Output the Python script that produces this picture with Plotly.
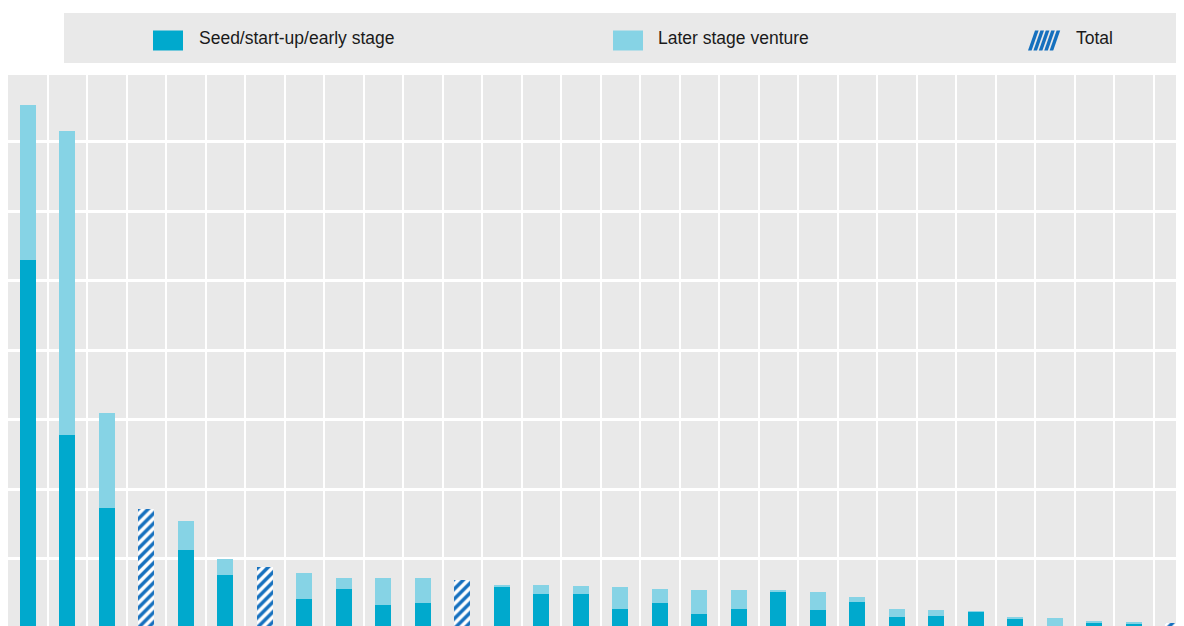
import plotly.graph_objects as go

# ---- data (arbitrary units, one gridline = 1 unit) ----
categories = [f"C{i:02d}" for i in range(1, 31)]
seed = [5.30, 2.79, 1.74, None, 1.13, 0.77, None, 0.42, 0.57, 0.34,
        0.36, None, 0.59, 0.49, 0.50, 0.28, 0.37, 0.21, 0.28, 0.52,
        0.27, 0.38, 0.17, 0.18, 0.24, 0.14, 0.00, 0.08, 0.07, None]
later = [2.23, 4.37, 1.36, None, 0.41, 0.23, None, 0.38, 0.16, 0.38,
         0.36, None, 0.04, 0.13, 0.11, 0.32, 0.20, 0.34, 0.27, 0.03,
         0.26, 0.07, 0.11, 0.08, 0.01, 0.03, 0.15, 0.02, 0.03, None]
total = [None, None, None, 1.72, None, None, 0.89, None, None, None,
         None, 0.70, None, None, None, None, None, None, None, None,
         None, None, None, None, None, None, None, None, None, 0.08]
legend_labels = ["Seed/start-up/early stage", "Later stage venture", "Total"]

SEED_C = "#00A9CD"
LATER_C = "#86D3E5"
HATCH_C = "#1570BE"
OFF = 8                      # page body margin offset
W, H = 1184 - OFF, 626 - OFF
ML, MT, MB, MR = 0, 75 - OFF, 0, 0

fig = go.Figure()
fig.add_bar(x=categories, y=seed, name=legend_labels[0], marker=dict(color=SEED_C, line=dict(width=0)))
fig.add_bar(x=categories, y=later, name=legend_labels[1], marker=dict(color=LATER_C, line=dict(width=0)))
fig.add_bar(x=categories, y=total, name=legend_labels[2],
            marker=dict(color="white", line=dict(width=0),
                        pattern=dict(shape="/", fgcolor=HATCH_C, bgcolor="white",
                                     size=7, solidity=0.5, fillmode="replace")))

pw = W - ML - MR
ph = H - MT - MB


def px(x):  # page pixel -> paper x
    return (x - OFF - ML) / pw


def py(y):  # page pixel -> paper y
    return (H - MB - (y - OFF)) / ph


shapes = [dict(type="rect", xref="paper", yref="paper", x0=px(64), x1=px(1176), y0=py(63), y1=py(13),
               fillcolor="#E9E9E9", line=dict(width=0), layer="below")]
annotations = []
items = [(153, 197, SEED_C), (613, 656, LATER_C), (1028, 1074, None)]
for (ix, tx, col), lab in zip(items, legend_labels):
    if col:
        shapes.append(dict(type="rect", xref="paper", yref="paper", x0=px(ix), x1=px(ix + 30),
                           y0=py(50.5), y1=py(30.5), fillcolor=col, line=dict(width=0)))
    else:
        for k in range(5):
            x0 = ix + k * 5.4
            shapes.append(dict(type="path", xref="paper", yref="paper",
                               path=(f"M{px(x0)},{py(50.5)} L{px(x0 + 3.6)},{py(50.5)} "
                                     f"L{px(x0 + 3.6 + 7)},{py(30.5)} L{px(x0 + 7)},{py(30.5)} Z"),
                               fillcolor=HATCH_C, line=dict(width=0)))
    annotations.append(dict(text=lab, xref="paper", yref="paper", x=px(tx), y=py(38.5),
                            xanchor="left", yanchor="middle", showarrow=False,
                            font=dict(family="Liberation Sans, Arial, sans-serif",
                                      size=17.5, color="#1a1a1a")))

fig.update_layout(
    width=W, height=H,
    margin=dict(l=ML, r=MR, t=MT, b=MB, pad=0),
    barmode="stack", bargap=0.595,
    showlegend=False,
    paper_bgcolor="white", plot_bgcolor="#E9E9E9",
    shapes=shapes, annotations=annotations,
    xaxis=dict(type="category", tickson="boundaries", showgrid=True, gridcolor="white", gridwidth=2,
               showticklabels=False, ticks="", range=[-0.5, 29.27], zeroline=False, showline=False),
    yaxis=dict(range=[0.036, 7.96], dtick=1, tick0=0, showgrid=True, gridcolor="white", gridwidth=2.5,
               showticklabels=False, ticks="", zeroline=False, showline=False),
)

fig.write_html("out.html")
